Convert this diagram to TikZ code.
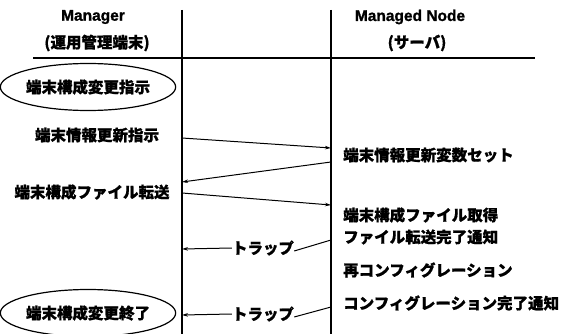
\documentclass[tikz,border=0pt]{standalone}
\usepackage{fontspec}
\setmainfont{Liberation Sans}[BoldFeatures={FakeBold=1.2}]
\newfontfamily\jp{Noto Sans CJK JP}[BoldFeatures={FakeBold=0.8}]
\usetikzlibrary{arrows.meta,shapes.geometric}
\begin{document}
\begin{tikzpicture}[x=1pt,y=-1pt,
  life/.style={line width=1.8pt},
  msg/.style={line width=1pt,-{Stealth[length=6pt,width=3.5pt]}},
  seg/.style={line width=1pt},
  lbl/.style={font=\jp\bfseries\fontsize{15.5}{15.5}\selectfont, inner sep=0pt},
  hdr/.style={font=\bfseries\fontsize{15.5}{15.5}\selectfont, inner sep=0pt},
  oval/.style={ellipse, draw, line width=1.2pt, minimum width=143pt, minimum height=47pt, inner sep=0pt},
]
\fill[white] (0,0) rectangle (570,334);
\useasboundingbox (0,0) rectangle (570,334);
% lifelines and header
\coordinate (Ltop) at (182,10); \coordinate (Lbot) at (182,334);
\coordinate (Rtop) at (331,10); \coordinate (Rbot) at (331,334);
\coordinate (Hl) at (33,58); \coordinate (Hr) at (535,58);
\draw[life] (Ltop) -- (Lbot);
\draw[life] (Rtop) -- (Rbot);
\draw[line width=1.5pt] (Hl) -- (Hr);
% headers
\node[hdr] (mgr) at (93,17) {Manager};
\node[lbl] (mgrj) at (97,43) {(運用管理端末)};
\node[hdr] (mn) at (410,17) {Managed Node};
\node[lbl] (mnj) at (417,43) {(サーバ)};
% left side
\node[oval, lbl] (e1) at (88,87) {端末構成変更指示};
\node[lbl] (t1) at (97,135) {端末情報更新指示};
\node[lbl] (t2) at (92,192) {端末構成ファイル転送};
\node[oval, lbl] (e2) at (88,313) {端末構成変更終了};
% right side
\node[lbl, anchor=west] (r1) at (343,155) {端末情報更新変数セット};
\node[lbl, anchor=west] (r2) at (343,215) {端末構成ファイル取得};
\node[lbl, anchor=west] (r3) at (343,237) {ファイル転送完了通知};
\node[lbl, anchor=west] (r4) at (343,270) {再コンフィグレーション};
\node[lbl, anchor=west] (r5) at (343,303) {コンフィグレーション完了通知};
% messages
\coordinate (a1s) at (182,138); \coordinate (a1e) at (331,148);
\coordinate (a2s) at (331,162); \coordinate (a2e) at (182,182);
\coordinate (a3s) at (182,193); \coordinate (a3e) at (331,205);
\draw[msg] (a1s) -- (a1e);
\draw[msg] (a2s) -- (a2e);
\draw[msg] (a3s) -- (a3e);
% traps
\node[lbl] (trap1) at (263,248) {トラップ};
\coordinate (t1r) at (331,240); \coordinate (t1l) at (182,249);
\draw[seg] ([yshift=-3pt]trap1.east) -- (t1r);
\draw[msg] (trap1.west) -- (t1l);
\node[lbl] (trap2) at (263,314) {トラップ};
\coordinate (t2r) at (331,307); \coordinate (t2l) at (182,315);
\draw[seg] ([yshift=-3pt]trap2.east) -- (t2r);
\draw[msg] (trap2.west) -- (t2l);
\end{tikzpicture}
\end{document}
